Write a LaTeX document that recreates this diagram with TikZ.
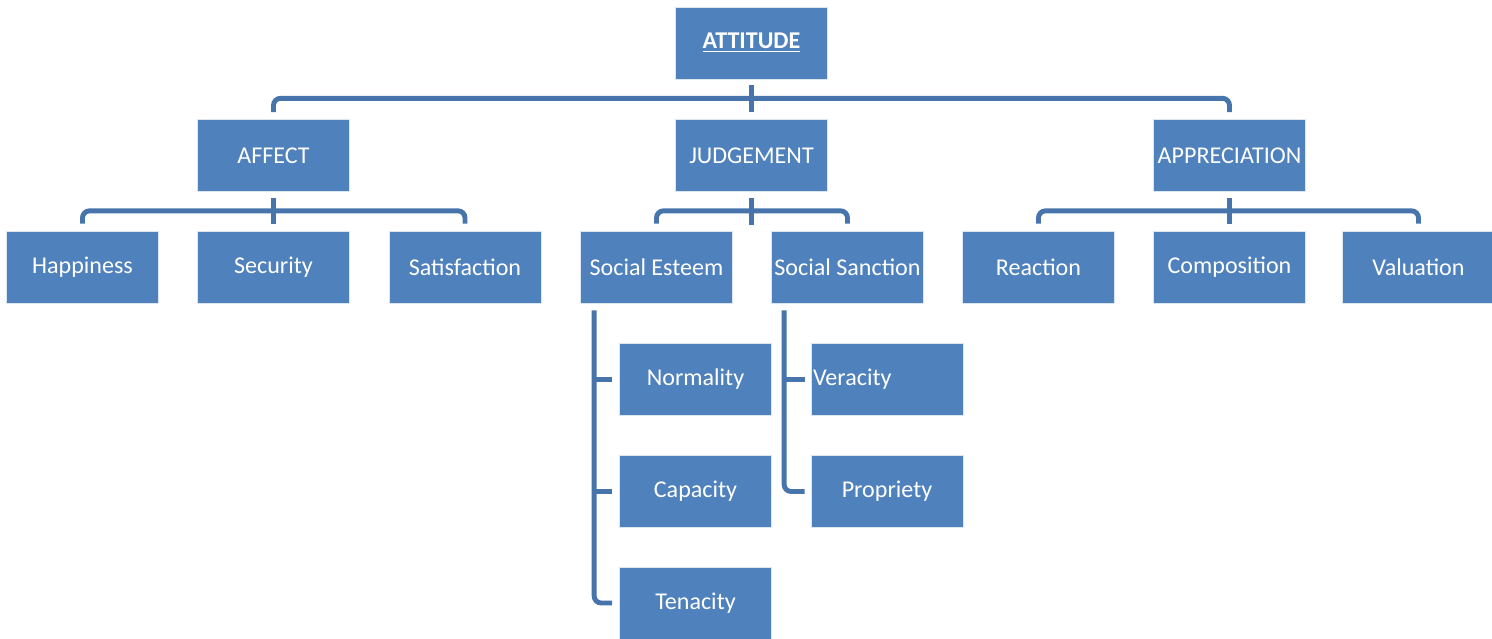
\documentclass[tikz,border=0pt]{standalone}
\usepackage{fontspec}
\setmainfont{Carlito}
\usetikzlibrary{calc}
\definecolor{boxblue}{HTML}{4F81BD}
\definecolor{lineblue}{HTML}{4674AB}

\begin{document}
\begin{tikzpicture}[x=0.02cm,y=-0.02cm,box/.style={rectangle,fill=boxblue,draw=white!80!boxblue,line width=0.4pt,text=white,minimum width=3.04cm,minimum height=1.44cm,inner sep=1pt,font=\fontsize{13.7}{16}\selectfont},conn/.style={draw=lineblue,line width=2.8pt,rounded corners=4}]
            \useasboundingbox (0,0) rectangle (1492,639);

            \node[box] (1) at (751.5,43) {\textbf{\underline{ATTITUDE}}};

            \node[box] (2) at (273.5,155.5) {AFFECT};
            \node[box] (3) at (751.5,155.5) {JUDGEMENT};
            \node[box] (4) at (1229.5,155.5) {APPRECIATION};

            \node[box] (5) at (82.5,267) {Happiness};
            \node[box] (6) at (273.5,267) {Security};
            \node[box] (7) at (465,267) {Satisfaction};
            \node[box] (8) at (656.5,267) {Social Esteem};
            \node[box] (9) at (847.5,267) {Social Sanction};
            \node[box] (10) at (1038.5,267) {Reaction};
            \node[box] (11) at (1229.5,267) {Composition};
            \node[box] (12) at (1418.5,267) {Valuation};

            \node[box] (13) at (695.5,379.5) {Normality};
            \node[box] (14) at (695.5,491.5) {Capacity};
            \node[box] (15) at (695.5,603) {Tenacity};
            \node[box,text width=2.96cm,align=left] (16) at (887,379.5) {Veracity};
            \node[box] (17) at (887,491.5) {Propriety};

            % top level
            \draw[conn] ($(2.north)+(0,-7)$) |- ($(1.south)+(0,19)$) -| ($(4.north)+(0,-7)$);
            \draw[conn] ($(1.south)+(0,6)$) -- ($(3.north)+(0,-7)$);

            % second level
            \draw[conn] ($(5.north)+(0,-7)$) |- ($(2.south)+(0,19)$) -| ($(7.north)+(0,-7)$);
            \draw[conn] ($(2.south)+(0,6)$) -- ($(6.north)+(0,-7)$);
            \draw[conn] ($(8.north)+(0,-7)$) |- ($(3.south)+(0,19)$) -| ($(9.north)+(0,-7)$);
            \draw[conn] ($(3.south)+(0,6)$) -- ($(3.south)+(0,33)$);
            \draw[conn] ($(10.north)+(0,-7)$) |- ($(4.south)+(0,19)$) -| ($(12.north)+(0,-7)$);
            \draw[conn] ($(4.south)+(0,6)$) -- ($(11.north)+(0,-7)$);

            % social esteem / social sanction
            \coordinate (a) at ($(8.south west)+(14,7)$);
            \coordinate (b) at ($(9.south west)+(13,7)$);
            \draw[conn] (a) |- ($(15.west)+(-7,0)$);
            \draw[conn] (a |- 13.west) -- ($(13.west)+(-7,0)$);
            \draw[conn] (a |- 14.west) -- ($(14.west)+(-7,0)$);
            \draw[conn] (b) |- ($(17.west)+(-6,0)$);
            \draw[conn] (b |- 16.west) -- ($(16.west)+(-6,0)$);
        \end{tikzpicture}
\end{document}
